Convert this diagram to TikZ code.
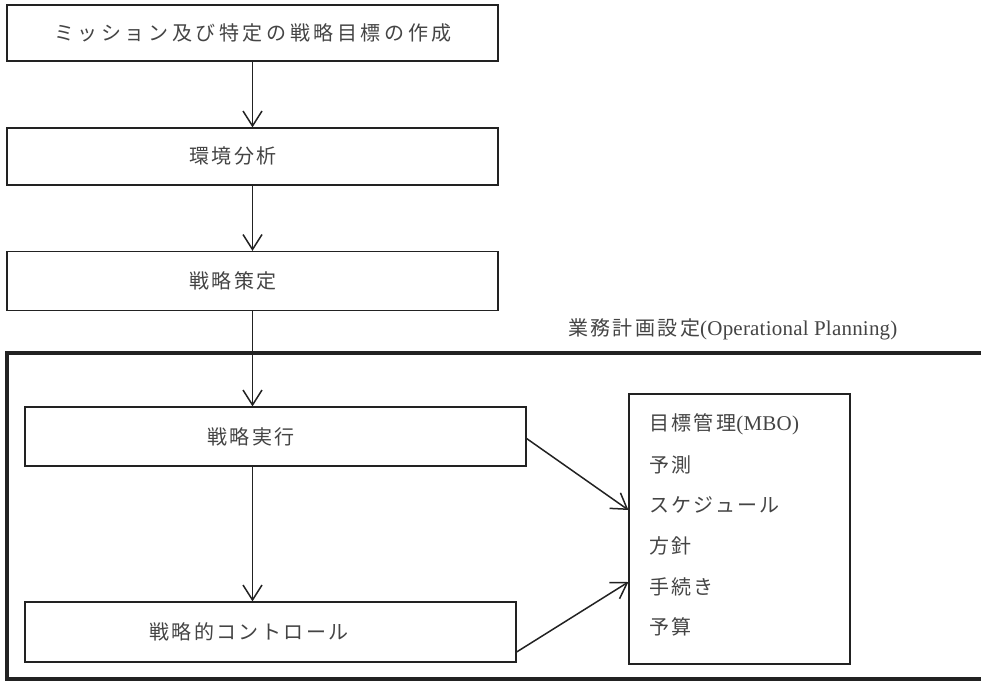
\documentclass[tikz,border=0pt]{standalone}
\usepackage{fontspec}
\setmainfont{Liberation Serif}[LetterSpace=1]
\newfontfamily\jp[LetterSpace=12]{Noto Sans CJK JP}
\newfontfamily\jpwide[LetterSpace=18]{Noto Sans CJK JP}
\usetikzlibrary{arrows.meta}
\definecolor{ink}{HTML}{222222}
\definecolor{txtc}{HTML}{444444}
\newcommand{\latn}[1]{{\rmfamily\fontsize{21}{22}\selectfont #1}}
\begin{document}
\begin{tikzpicture}[x=1pt,y=-1pt,
  boxst/.style={draw=ink, line width=1.2pt, rectangle, inner sep=0pt},
  txt/.style={inner sep=0pt, text=txtc, font=\jp\fontsize{20}{22}\selectfont},
  flow/.style={draw=ink, line width=1.5pt, -{Straight Barb[length=15pt,width=19pt,line width=1.5pt]}},
  frame/.style={draw=ink, line width=4.5pt}]
\useasboundingbox (0,0) rectangle (981,682);
% boxes
\node[boxst, minimum width=491pt, minimum height=56pt] (b1) at (252.5,33) {};
\node[boxst, minimum width=491pt, minimum height=57pt] (b2) at (252.5,156.5) {};
\node[boxst, minimum width=491pt, minimum height=59pt] (b3) at (252.5,281) {};
\node[boxst, minimum width=501pt, minimum height=59pt] (b4) at (275.5,436.5) {};
\node[boxst, minimum width=491pt, minimum height=60pt] (b5) at (270.5,632) {};
\node[boxst, minimum width=221pt, minimum height=270pt] (b6) at (739.5,529) {};
% texts
\node[txt, font=\jpwide\fontsize{20}{22}\selectfont] (t1) at (253,33) {ミッション及び特定の戦略目標の作成};
\node[txt] (t2) at (233,156) {環境分析};
\node[txt] (t3) at (233,281) {戦略策定};
\node[txt] (t4) at (251,437) {戦略実行};
\node[txt] (t5) at (249,632) {戦略的コントロール};
\node[txt, anchor=west] (lab) at (568,329) {業務計画設定\latn{(Operational Planning)}};
\node[txt, anchor=west] (l1) at (649,424) {目標管理\latn{(MBO)}};
\node[txt, anchor=west] (l2) at (649,465) {予測};
\node[txt, anchor=west] (l3) at (649,505) {スケジュール};
\node[txt, anchor=west] (l4) at (649,546) {方針};
\node[txt, anchor=west] (l5) at (649,587) {手続き};
\node[txt, anchor=west] (l6) at (649,627) {予算};
% frame (open on the right)
\coordinate (ftr) at (981,353);
\coordinate (fbr) at (981,679);
\draw[frame] (ftr) -- (7,353) -- (7,679) -- (fbr);
% connectors
\draw[flow] (b1.south) -- (b2.north);
\draw[flow] (b2.south) -- (b3.north);
\draw[flow] (b3.south) -- (b3.south |- b4.north);
\draw[flow] (b4.south -| b3.south) -- (b5.north -| b3.south);
\draw[flow] ([yshift=-2pt]b4.east) -- ([yshift=19pt]b6.west);
\draw[flow] ([yshift=-20pt]b5.east) -- ([yshift=-53pt]b6.west);
\end{tikzpicture}
\end{document}
